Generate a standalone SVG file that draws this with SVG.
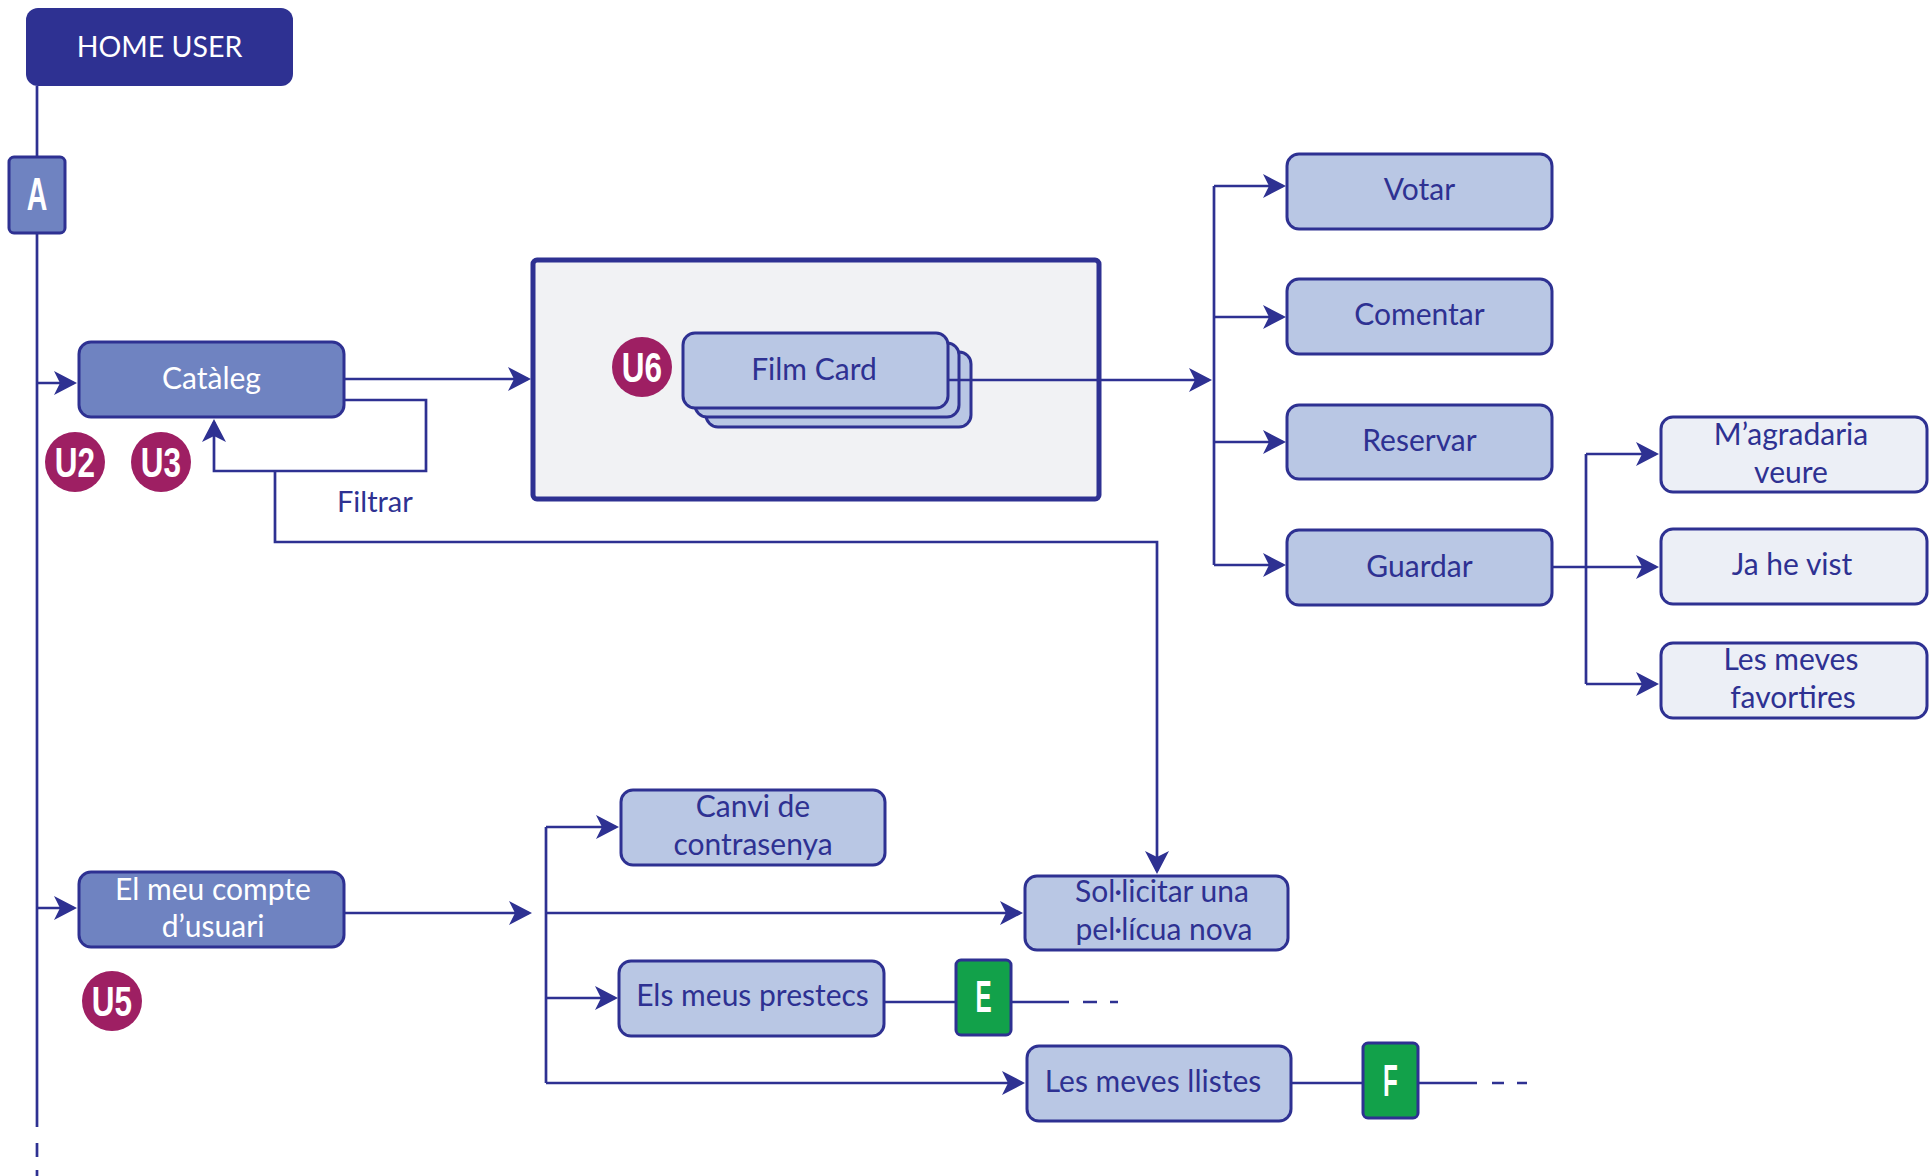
<svg xmlns="http://www.w3.org/2000/svg" width="1932" height="1176" viewBox="0 0 1932 1176">
  <defs>
    <marker id="ah" viewBox="-24 -13 26 26" refX="-3" refY="0" markerWidth="26" markerHeight="26" markerUnits="userSpaceOnUse" orient="auto">
      <path d="M0 0 L-23 -12 L-17 0 L-23 12 Z" fill="#2e3192"/>
    </marker>
    <style>
      .ln { fill: none; stroke: #2e3192; stroke-width: 2.7; }
      .arr { marker-end: url(#ah); }
      .box { stroke: #2e3192; stroke-width: 3; }
      .mid { fill: #6f83c1; }
      .lt { fill: #b9c7e4; }
      .pale { fill: #eceff6; }
      .tag { fill: #12a14a; stroke: #2e3192; stroke-width: 3; }
      .lbl { font-family: Lato, "Liberation Sans", sans-serif; font-size: 30px; fill: #2e3192; text-anchor: middle; }
      .wht { fill: #ffffff; }
      .bdg { font-family: "Liberation Sans", Arial, sans-serif; font-weight: bold; fill: #ffffff; text-anchor: middle; }
      .dot { fill: #9e1f63; }
    </style>
  </defs>

  <g id="home-user">
    <rect x="26" y="8" width="267" height="78" rx="12" fill="#2e3192"/>
    <text class="lbl wht" x="159.5" y="57" style="font-size:28.5px">HOME USER</text>
  </g>

  <g id="tag-a">
    <rect x="9" y="157" width="56" height="76" rx="5" class="box mid"/>
    <text class="bdg" transform="translate(37 210) scale(0.62 1)" x="0" y="0" style="font-size:46px">A</text>
  </g>

  <g id="cataleg">
    <rect x="79" y="342" width="265" height="75" rx="12" class="box mid"/>
    <text class="lbl wht" x="211.5" y="389">Catàleg</text>
  </g>

  <text id="filtrar" class="lbl" x="337" y="512" style="text-anchor:start;font-size:29px">Filtrar</text>

  <g id="u2"><circle cx="75" cy="462" r="30" class="dot"/><text class="bdg" transform="translate(75 477) scale(0.75 1)" style="font-size:42px">U2</text></g>
  <g id="u3"><circle cx="161" cy="462" r="30" class="dot"/><text class="bdg" transform="translate(161 477) scale(0.75 1)" style="font-size:42px">U3</text></g>

  <g id="film-view">
    <rect x="533" y="260" width="566" height="239" rx="4" fill="#f1f2f4" stroke="#2e3192" stroke-width="5"/>
  </g>

  <g id="film-card">
    <rect x="706" y="352" width="265" height="75" rx="12" class="box lt"/>
    <rect x="695" y="343" width="264" height="74" rx="12" class="box lt"/>
    <rect x="683" y="333" width="265" height="75" rx="12" class="box lt"/>
    <text class="lbl" x="814" y="380">Film Card</text>
  </g>

  <g id="u6"><circle cx="642" cy="367" r="30" class="dot"/><text class="bdg" transform="translate(642 382) scale(0.75 1)" style="font-size:42px">U6</text></g>

  <g id="votar">
    <rect x="1287" y="154" width="265" height="75" rx="12" class="box lt"/>
    <text class="lbl" x="1419.5" y="200">Votar</text>
  </g>
  <g id="comentar">
    <rect x="1287" y="279" width="265" height="75" rx="12" class="box lt"/>
    <text class="lbl" x="1419.5" y="325">Comentar</text>
  </g>
  <g id="reservar">
    <rect x="1287" y="405" width="265" height="74" rx="12" class="box lt"/>
    <text class="lbl" x="1419.5" y="451">Reservar</text>
  </g>
  <g id="guardar">
    <rect x="1287" y="530" width="265" height="75" rx="12" class="box lt"/>
    <text class="lbl" x="1419.5" y="577">Guardar</text>
  </g>

  <g id="magradaria">
    <rect x="1661" y="417" width="266" height="75" rx="12" class="box pale"/>
    <text class="lbl" x="1791" y="445">M’agradaria</text>
    <text class="lbl" x="1791" y="483">veure</text>
  </g>
  <g id="ja-he-vist">
    <rect x="1661" y="529" width="266" height="75" rx="12" class="box pale"/>
    <text class="lbl" x="1792" y="575">Ja he vist</text>
  </g>
  <g id="favortires">
    <rect x="1661" y="643" width="266" height="75" rx="12" class="box pale"/>
    <text class="lbl" x="1791" y="670">Les meves</text>
    <text class="lbl" x="1793" y="708">favortires</text>
  </g>

  <g id="compte">
    <rect x="79" y="872" width="265" height="75" rx="12" class="box mid"/>
    <text class="lbl wht" x="213" y="900">El meu compte</text>
    <text class="lbl wht" x="213" y="937">d’usuari</text>
  </g>
  <g id="u5"><circle cx="112" cy="1001" r="30" class="dot"/><text class="bdg" transform="translate(112 1016) scale(0.75 1)" style="font-size:42px">U5</text></g>

  <g id="canvi">
    <rect x="621" y="790" width="264" height="75" rx="12" class="box lt"/>
    <text class="lbl" x="753" y="817">Canvi de</text>
    <text class="lbl" x="753" y="855">contrasenya</text>
  </g>
  <g id="sollicitar">
    <rect x="1025" y="876" width="263" height="74" rx="12" class="box lt"/>
    <text class="lbl" x="1162" y="902">Sol·licitar una</text>
    <text class="lbl" x="1164" y="940">pel·lícua nova</text>
  </g>
  <g id="prestecs">
    <rect x="619" y="961" width="265" height="75" rx="12" class="box lt"/>
    <text class="lbl" x="752.5" y="1006">Els meus prestecs</text>
  </g>
  <g id="tag-e">
    <rect x="956" y="960" width="55" height="75" rx="5" class="tag"/>
    <text class="bdg" transform="translate(983.5 1012) scale(0.55 1)" style="font-size:44px">E</text>
  </g>
  <g id="llistes">
    <rect x="1027" y="1046" width="264" height="75" rx="12" class="box lt"/>
    <text class="lbl" x="1153" y="1092">Les meves llistes</text>
  </g>
  <g id="tag-f">
    <rect x="1363" y="1043" width="55" height="75" rx="5" class="tag"/>
    <text class="bdg" transform="translate(1390.5 1096) scale(0.55 1)" style="font-size:44px">F</text>
  </g>

  <!-- connectors, drawn over the boxes -->
  <g id="connectors">
    <path class="ln" d="M37 86 V157 M37 233 V1127"/>
    <path class="ln" d="M37 1143 V1157 M37 1170 V1176"/>
    <path class="ln arr" d="M37 383 H74"/>
    <path class="ln arr" d="M344 379 H528"/>
    <path class="ln arr" d="M344 400 H426 V471 H214 V422"/>
    <path class="ln arr" d="M275 471 V542 H1157 V871"/>
    <path class="ln arr" d="M948 380 H1209"/>
    <path class="ln" d="M1214 186 V565"/>
    <path class="ln arr" d="M1214 186 H1283"/>
    <path class="ln arr" d="M1214 317 H1283"/>
    <path class="ln arr" d="M1214 442 H1283"/>
    <path class="ln arr" d="M1214 565 H1283"/>
    <path class="ln" d="M1552 567 H1586 M1586 454 V684"/>
    <path class="ln arr" d="M1586 454 H1656"/>
    <path class="ln arr" d="M1586 567 H1656"/>
    <path class="ln arr" d="M1586 684 H1656"/>
    <path class="ln arr" d="M37 908 H74"/>
    <path class="ln arr" d="M344 913 H529"/>
    <path class="ln" d="M546 827 V1083"/>
    <path class="ln arr" d="M546 827 H616"/>
    <path class="ln arr" d="M546 913 H1020"/>
    <path class="ln arr" d="M546 998 H615"/>
    <path class="ln arr" d="M546 1083 H1022"/>
    <path class="ln" d="M884 1002 H956 M1011 1002 H1069 M1083 1002 H1097 M1110 1002 H1118"/>
    <path class="ln" d="M1291 1083 H1363 M1418 1083 H1477 M1492 1083 H1504 M1517 1083 H1527"/>
  </g>
</svg>
